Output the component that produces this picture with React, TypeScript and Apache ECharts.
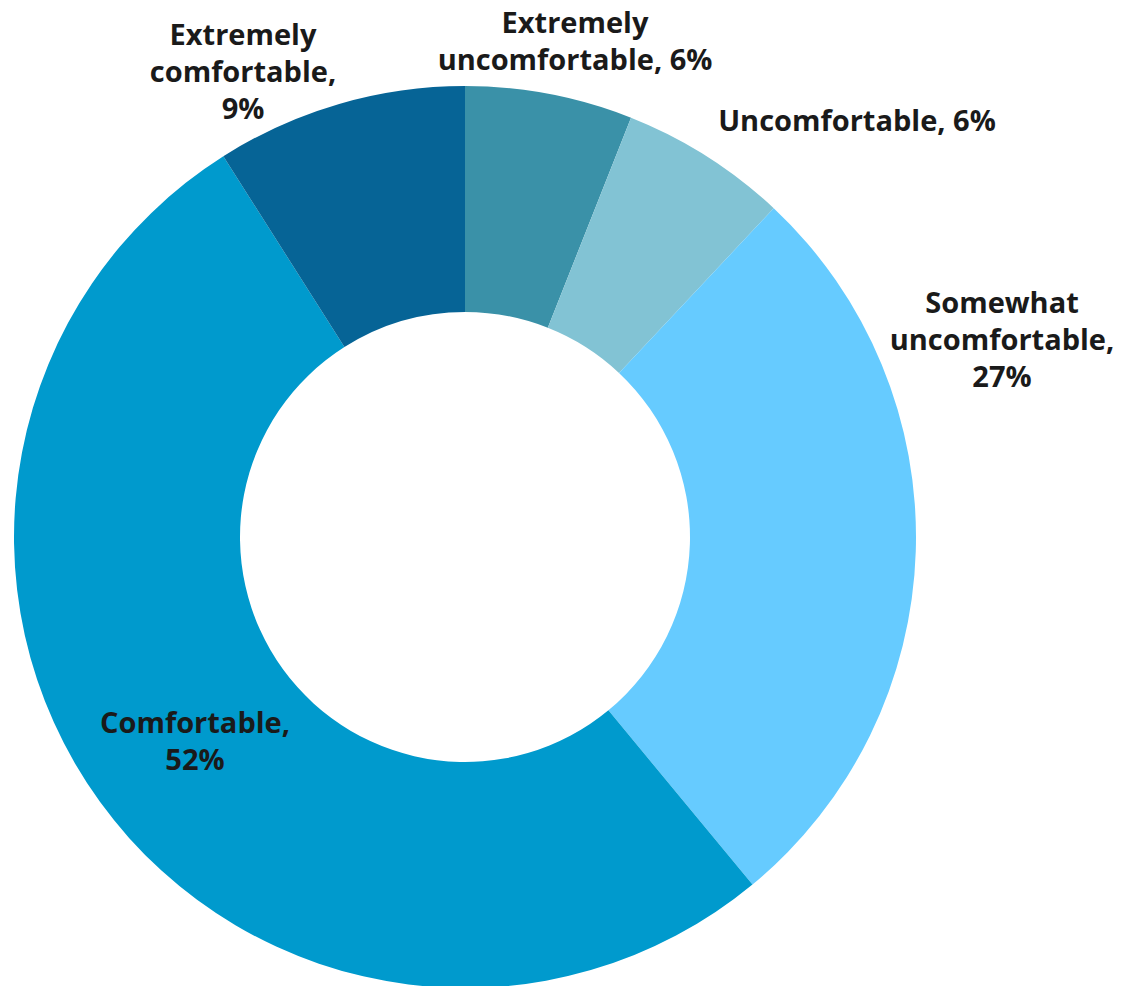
import React, { useEffect, useRef } from "react";
import * as echarts from "echarts";

const categories = [
  "Extremely\nuncomfortable,",
  "Uncomfortable,",
  "Somewhat\nuncomfortable,",
  "Comfortable,",
  "Extremely\ncomfortable,",
];
const values = [6, 6, 27, 52, 9];
const valueSeparators = [" ", " ", "\n", "\n", "\n"];
const colors = ["#3A91A8", "#82C3D4", "#66CBFF", "#009ACD", "#066496"];
const labelAnchors = [
  [575, 40],
  [857, 119],
  [1002, 338],
  [195, 740],
  [243, 70],
];

export default function App() {
  const ref = useRef<HTMLDivElement>(null);
  useEffect(() => {
    document.body.style.margin = "0";
    const chart = echarts.init(ref.current!, null, { renderer: "svg" });
    chart.setOption({
      animation: false,
      backgroundColor: "#ffffff",
      series: [
        {
          type: "pie",
          center: [465, 537],
          radius: [225, 451],
          startAngle: 90,
          clockwise: true,
          silent: true,
          data: categories.map((c, i) => ({
            name: c,
            value: values[i],
            itemStyle: { color: colors[i] },
          })),
          label: {
            show: true,
            formatter: (p: any) =>
              p.name + valueSeparators[p.dataIndex] + p.value + "%",
            color: "#1a1a1a",
            fontFamily: "Open Sans",
            fontWeight: "bold",
            fontSize: 29,
            lineHeight: 37,
            align: "center",
            overflow: "none",
            width: 400,
          },
          labelLine: { show: false },
          labelLayout: (p: any) => ({
            x: labelAnchors[p.dataIndex][0],
            y: labelAnchors[p.dataIndex][1],
            align: "center",
            verticalAlign: "middle",
          }),
        },
      ],
    });
    return () => chart.dispose();
  }, []);
  return <div ref={ref} style={{ width: 1124, height: 986 }} />;
}
